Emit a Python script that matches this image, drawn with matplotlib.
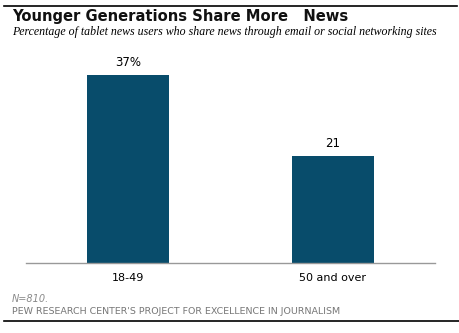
import matplotlib.pyplot as plt
from matplotlib.lines import Line2D

groups = ['18-49', '50 and over']
shares = [37, 21]
value_labels = ['37%', '21']

fig = plt.figure(figsize=(4.6, 3.33), dpi=100)
ax = fig.add_axes([26/460, 70/333, 409/460, 203/333])

bars = ax.bar(range(len(groups)), shares, width=0.4, color='#084c6b')
for b, lab in zip(bars, value_labels):
    ax.text(b.get_x() + b.get_width()/2, b.get_height() + 1.2, lab,
            ha='center', va='bottom', fontsize=8.5, color='black')

ax.set_xlim(-0.5, 1.5)
ax.set_ylim(0, 40)
ax.set_xticks(range(len(groups)))
ax.set_xticklabels(groups, fontsize=8)
ax.tick_params(axis='x', length=0, pad=7)
ax.set_yticks([])
for s in ['top', 'right', 'left']:
    ax.spines[s].set_visible(False)
ax.spines['bottom'].set_color('#999999')
ax.spines['bottom'].set_linewidth(1)

# header / footer rules
fig.add_artist(Line2D([4/460, 457/460], [1 - 6/333, 1 - 6/333], color='black', lw=1.2))
fig.add_artist(Line2D([4/460, 460/460], [1 - 321/333, 1 - 321/333], color='black', lw=1.2))

fig.text(12/460, 1 - 16/333, 'Younger Generations Share More   News',
         fontsize=10.6, fontweight='bold', va='center', ha='left', color='#111111')
fig.text(12/460, 1 - 32/333,
         'Percentage of tablet news users who share news through email or social networking sites',
         fontsize=8.6, style='italic', family='Liberation Serif', va='center', ha='left')
fig.text(12/460, 1 - 299/333, 'N=810.', fontsize=7, style='italic',
         color='#8a8a8a', va='center', ha='left')
fig.text(12/460, 1 - 311/333, "PEW RESEARCH CENTER'S PROJECT FOR EXCELLENCE IN JOURNALISM",
         fontsize=6.8, color='#777777', va='center', ha='left')

fig.savefig('out.png', dpi=100)
